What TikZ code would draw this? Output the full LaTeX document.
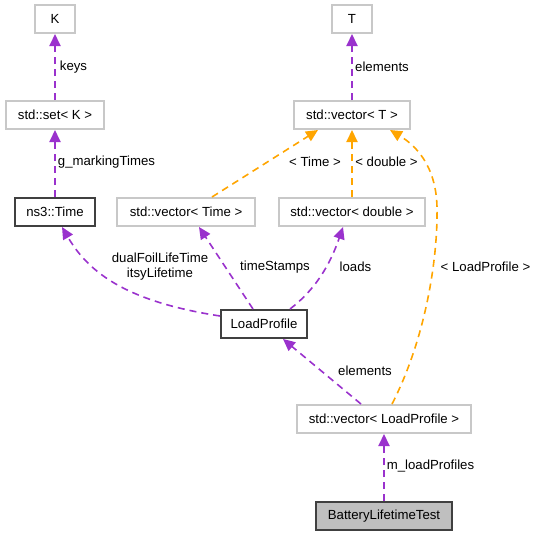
\documentclass[tikz,border=0pt]{standalone}
\usepackage{fontspec}
\setmainfont{Liberation Sans}
\usetikzlibrary{arrows.meta}
\definecolor{purp}{HTML}{9A32CD}
\definecolor{orng}{HTML}{FFA500}
\definecolor{gbord}{HTML}{C8C8C8}
\definecolor{kbord}{HTML}{404040}
\definecolor{gfill}{HTML}{BFBFBF}
\begin{document}
\begin{tikzpicture}[x=1pt,y=-1pt,
  every node/.style={font=\fontsize{13.2}{15.5}\selectfont},
  cls/.style={draw=gbord,line width=2pt,fill=white,minimum height=28pt,inner sep=0pt},
  kls/.style={draw=kbord,line width=2pt,fill=white,minimum height=28pt,inner sep=0pt},
  focus/.style={draw=kbord,line width=2pt,fill=gfill,minimum height=28pt,inner sep=0pt},
  pedge/.style={draw=purp,line width=1.6pt,dash pattern=on 7pt off 5pt,-{Triangle[length=12pt,width=11pt]}},
  oedge/.style={draw=orng,line width=1.6pt,dash pattern=on 7pt off 5pt,-{Triangle[length=12pt,width=11pt]}},
  vert/.style={line width=2pt},
  lbl/.style={inner sep=0pt,fill=none}]
\useasboundingbox (0,0) rectangle (536,536);
\node[cls,minimum width=40pt] (K) at (55,19) {K};
\node[cls,minimum width=98pt] (set) at (55,115) {std::set< K >};
\node[kls,minimum width=80pt] (time) at (55,212) {ns3::Time};
\node[cls,minimum width=138pt] (vtime) at (186,212) {std::vector< Time >};
\node[cls,minimum width=40pt] (T) at (352,19) {T};
\node[cls,minimum width=116pt] (vT) at (352,115) {std::vector< T >};
\node[cls,minimum width=146pt] (vdouble) at (352,212) {std::vector< double >};
\node[kls,minimum width=86pt] (lp) at (264,324) {LoadProfile};
\node[cls,minimum width=174pt] (vlp) at (384,419) {std::vector< LoadProfile >};
\node[focus,minimum width=136pt] (blt) at (384,516) {BatteryLifetimeTest};

\draw[pedge,vert] (set.north) -- (K.south);
\draw[pedge,vert] (time.north) -- (set.south);
\draw[pedge,vert] (vT.north) -- (T.south);
\draw[oedge] ([xshift=26pt]vtime.north) -- ([xshift=-34pt]vT.south);
\draw[oedge,vert] (vdouble.north) -- (vT.south);
\draw[oedge] ([xshift=8pt]vlp.north) .. controls (425,340) and (438,260) .. (437,207) .. controls (436,165) and (415,145) .. ([xshift=38pt]vT.south);
\draw[pedge] ([yshift=8pt]lp.west) .. controls (130,302) and (90,275) .. ([xshift=7pt]time.south);
\draw[pedge] ([xshift=-11pt]lp.north) -- ([xshift=13pt]vtime.south);
\draw[pedge] ([xshift=26pt]lp.north) .. controls (315,290) and (330,265) .. ([xshift=-9pt]vdouble.south);
\draw[pedge] ([xshift=-23pt]vlp.north) -- ([xshift=19pt]lp.south);
\draw[pedge,vert] (blt.north) -- (vlp.south);

\node[lbl] (l1) at (73.5,67) {keys};
\node[lbl] (l2) at (106.5,162) {g\_markingTimes};
\node[lbl] (l3) at (382,67) {elements};
\node[lbl] (l4) at (315,162) {< Time >};
\node[lbl] (l5) at (386.5,162) {< double >};
\node[lbl,align=center] (l6) at (160,266.5) {dualFoilLifeTime\\itsyLifetime};
\node[lbl] (l7) at (275,267) {timeStamps};
\node[lbl] (l8) at (355.5,267) {loads};
\node[lbl] (l9) at (485.5,267) {< LoadProfile >};
\node[lbl] (l10) at (365,371) {elements};
\node[lbl] (l11) at (430.5,466) {m\_loadProfiles};
\end{tikzpicture}
\end{document}
